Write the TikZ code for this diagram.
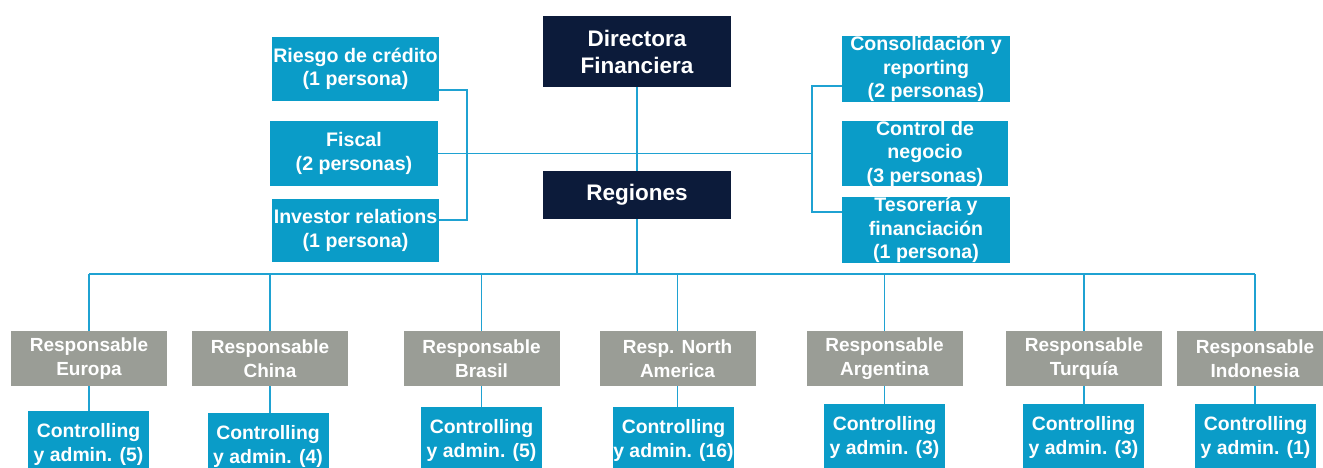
\documentclass[tikz,border=0pt]{standalone}
\usepackage{fontspec}
\setmainfont{Liberation Sans}
\definecolor{navy}{HTML}{0C1B3A}
\definecolor{cblue}{HTML}{0A9CC8}
\definecolor{cgray}{HTML}{9A9D96}
\definecolor{cline}{HTML}{1FA2D2}
\begin{document}
\begin{tikzpicture}[x=1pt,y=-1pt,
  base/.style={rectangle, inner sep=0pt, align=center, text=white},
  topbox/.style={base, fill=navy, minimum width=188pt, font=\fontsize{22.5}{27}\selectfont\bfseries},
  sidebox/.style={base, fill=cblue, font=\fontsize{19.6}{23.5}\selectfont\bfseries},
  regbox/.style={base, fill=cgray, minimum width=156pt, minimum height=55pt, font=\fontsize{19}{23.5}\selectfont\bfseries},
  ctlbox/.style={base, fill=cblue, anchor=north, minimum width=121pt, minimum height=67pt, font=\fontsize{19.4}{23.5}\selectfont\bfseries},
  conn/.style={draw=cline, line width=1.6pt}]
\useasboundingbox (0,0) rectangle (1323,467);
\fill[white] (0,0) rectangle (1323,467);
% top
\node[topbox, minimum height=71pt] (dir) at (637,51.5) {Directora\\Financiera};
\node[topbox, minimum height=48pt] (reg) at (637,195) {Regiones};
% left staff
\node[sidebox, minimum width=167pt, minimum height=64pt] (ries) at (355.5,69) {Riesgo de crédito\\(1 persona)};
\node[sidebox, minimum width=168pt, minimum height=65pt] (fisc) at (354,153.5) {Fiscal\\(2 personas)};
\node[sidebox, minimum width=167pt, minimum height=63pt] (inv) at (355.5,230.5) {Investor relations\\(1 persona)};
% right staff
\node[sidebox, minimum width=168pt, minimum height=64pt] (cons) at (926,69) {Consolidación y\\reporting\\(2 personas)};
\node[sidebox, minimum width=166pt, minimum height=65pt] (ctrl) at (925,153.5) {Control de\\negocio\\(3 personas)};
\node[sidebox, minimum width=168pt, minimum height=64pt] (teso) at (926,230) {Tesorería y\\financiación\\(1 persona)};
% regions
\node[regbox] (gEur) at (89,358.5) {Responsable\\Europa};
\node[regbox] (gChi) at (270,358.5) {Responsable\\China};
\node[regbox] (gBra) at (481.5,358.5) {Responsable\\Brasil};
\node[regbox] (gNA) at (677.5,358.5) {Resp. North\\America};
\node[regbox] (gArg) at (884.5,358.5) {Responsable\\Argentina};
\node[regbox] (gTur) at (1084,358.5) {Responsable\\Turquía};
\node[regbox] (gInd) at (1255,358.5) {Responsable\\Indonesia};
% controlling
\node[ctlbox] (bEur) at (88.5,411) {Controlling\\y admin. (5)};
\node[ctlbox] (bChi) at (268,413) {Controlling\\y admin. (4)};
\node[ctlbox] (bBra) at (481.5,407) {Controlling\\y admin. (5)};
\node[ctlbox] (bNA) at (673.5,407) {Controlling\\y admin. (16)};
\node[ctlbox] (bArg) at (884.5,404) {Controlling\\y admin. (3)};
\node[ctlbox] (bTur) at (1083.5,404) {Controlling\\y admin. (3)};
\node[ctlbox] (bInd) at (1255.5,404) {Controlling\\y admin. (1)};
% connectors
\coordinate (busy) at (0,274);
\draw[conn] (dir.south) -- (reg.north);
\draw[conn] (reg.south) -- (reg.south |- busy);
\draw[conn] (gEur.north |- busy) -- (gInd.north |- busy);
\foreach \g in {gEur,gChi,gBra,gNA,gArg,gTur,gInd}
  \draw[conn] (\g.north |- busy) -- (\g.north);
\draw[conn] (gEur.south) -- (gEur.south |- bEur.north);
\draw[conn] (gChi.south) -- (gChi.south |- bChi.north);
\draw[conn] (gBra.south) -- (gBra.south |- bBra.north);
\draw[conn] (gNA.south) -- (gNA.south |- bNA.north);
\draw[conn] (gArg.south) -- (gArg.south |- bArg.north);
\draw[conn] (gTur.south) -- (gTur.south |- bTur.north);
\draw[conn] (gInd.south) -- (gInd.south |- bInd.north);
\draw[conn] ([yshift=11pt]ries.south east) -- ++(28pt,0) |- ([yshift=-21pt]inv.north east);
\draw[conn] (fisc.east) -- ([xshift=-30pt]fisc.east -| cons.west);
\draw[conn] ([yshift=16pt]cons.south west) -- ++(-30pt,0) |- ([yshift=-15pt]teso.north west);
\end{tikzpicture}
\end{document}
